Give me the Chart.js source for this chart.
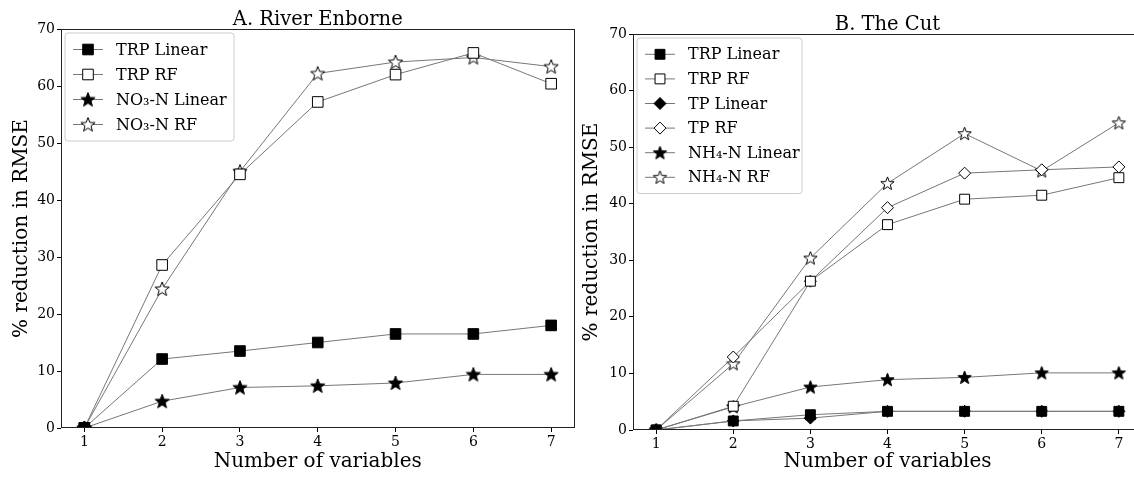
<!DOCTYPE html>
<html>
<head>
<meta charset="utf-8">
<script src="https://cdn.jsdelivr.net/npm/chart.js@4.4.1/dist/chart.umd.min.js"></script>
<style>
  html, body { margin: 0; padding: 0; background: #fff; overflow: hidden; }
  #wrapA { position: absolute; left: 0; top: 0; width: 583px; height: 478px; }
  #wrapB { position: absolute; left: 575px; top: 0; width: 575px; height: 478px; }
</style>
</head>
<body>
<div id="wrapA"><canvas id="chartA"></canvas></div>
<div id="wrapB"><canvas id="chartB"></canvas></div>
<script>
// ---- data ----
var xValues = [1, 2, 3, 4, 5, 6, 7];
var yTicks = [0, 10, 20, 30, 40, 50, 60, 70];

// A. River Enborne
var enbTrpLinear = [0, 12.1, 13.5, 15.0, 16.5, 16.5, 18.0];
var enbTrpRF     = [0, 28.6, 44.5, 57.2, 62.0, 65.8, 60.4];
var enbNo3Linear = [0, 4.7, 7.1, 7.4, 7.9, 9.4, 9.4];
var enbNo3RF     = [0, 24.4, 45.0, 62.2, 64.2, 65.0, 63.4];

// B. The Cut
var cutTrpLinear = [0, 1.6, 2.7, 3.3, 3.3, 3.3, 3.3];
var cutTrpRF     = [0, 4.2, 26.3, 36.3, 40.8, 41.5, 44.6];
var cutTpLinear  = [0, 1.6, 2.1, 3.3, 3.3, 3.3, 3.3];
var cutTpRF      = [0, 12.9, 26.3, 39.3, 45.4, 46.0, 46.5];
var cutNh4Linear = [0, 4.1, 7.6, 8.9, 9.3, 10.1, 10.1];
var cutNh4RF     = [0, 11.7, 30.4, 43.6, 52.4, 45.8, 54.3];

var FONT = "'DejaVu Serif', 'Liberation Serif', serif";
var LINE = '#777777';

// five pointed star marker as a small canvas
function makeStar(outer, fill) {
    var s = Math.ceil(outer * 2 + 3);
    var c = document.createElement('canvas');
    c.width = s; c.height = s;
    var g = c.getContext('2d');
    var cx = s / 2, cy = s / 2 + 0.5, inner = outer * 0.42;
    g.beginPath();
    for (var i = 0; i < 10; i++) {
        var r = i % 2 === 0 ? outer : inner;
        var a = -Math.PI / 2 + i * Math.PI / 5;
        var px = cx + r * Math.cos(a), py = cy + r * Math.sin(a);
        if (i === 0) g.moveTo(px, py); else g.lineTo(px, py);
    }
    g.closePath();
    g.fillStyle = fill;
    g.fill();
    g.lineWidth = 1;
    g.strokeStyle = '#000';
    g.stroke();
    return c;
}

function series(label, data, style, filled, radius) {
    var ps = style === 'star' ? makeStar(radius, filled ? '#000' : '#fff') : style;
    return {
        label: label,
        data: data.map(function (v, i) { return { x: xValues[i], y: v }; }),
        borderColor: LINE,
        borderWidth: 1,
        pointStyle: ps,
        pointRadius: radius,
        pointBackgroundColor: filled ? '#000' : '#fff',
        pointBorderColor: '#000',
        pointBorderWidth: 1,
        tension: 0
    };
}

// legend drawn inside the plot, matplotlib style
var boxLegend = {
    id: 'boxLegend',
    afterDatasetsDraw: function (chart, args, opts) {
        var ctx = chart.ctx, area = chart.chartArea;
        var sets = chart.data.datasets;
        var x0 = area.left + opts.inset, y0 = area.top + opts.inset;
        var h = sets.length * opts.rowH + opts.padY * 2;
        ctx.save();
        ctx.beginPath();
        if (ctx.roundRect) ctx.roundRect(x0, y0, opts.width, h, 3);
        else ctx.rect(x0, y0, opts.width, h);
        ctx.fillStyle = 'rgba(255,255,255,0.8)';
        ctx.fill();
        ctx.strokeStyle = '#cccccc';
        ctx.lineWidth = 1;
        ctx.stroke();
        ctx.font = opts.fontSize + 'px ' + FONT;
        ctx.textBaseline = 'middle';
        sets.forEach(function (ds, i) {
            var yy = y0 + opts.padY + opts.rowH * (i + 0.5);
            var lx = x0 + 8;
            ctx.beginPath();
            ctx.moveTo(lx, yy);
            ctx.lineTo(lx + 30, yy);
            ctx.strokeStyle = LINE;
            ctx.lineWidth = 1;
            ctx.stroke();
            ctx.fillStyle = ds.pointBackgroundColor;
            ctx.strokeStyle = '#000';
            Chart.helpers.drawPoint(ctx, {
                pointStyle: ds.pointStyle,
                radius: ds.pointRadius,
                rotation: 0,
                borderWidth: 1
            }, lx + 15, yy);
            ctx.fillStyle = '#000';
            ctx.fillText(ds.label, lx + 43, yy + 1);
        });
        ctx.restore();
    }
};

// full box frame around the plot plus a title centred over the axes
var frame = {
    id: 'frame',
    afterDraw: function (chart, args, opts) {
        var a = chart.chartArea, ctx = chart.ctx;
        ctx.save();
        ctx.strokeStyle = '#222';
        ctx.lineWidth = 1;
        ctx.strokeRect(Math.round(a.left) + 0.5, Math.round(a.top) + 0.5,
            Math.round(a.right - a.left) - 1, Math.round(a.bottom - a.top) - 1);
        ctx.font = '19.5px ' + FONT;
        ctx.fillStyle = '#000';
        ctx.textAlign = 'center';
        ctx.textBaseline = 'alphabetic';
        ctx.fillText(opts.text, (a.left + a.right) / 2, opts.baseline);
        ctx.restore();
    }
};

function makeChart(id, title, sets, yWidth, xHeight, topPad, titleBase, yTitleTop, legendOpts) {
    return new Chart(document.getElementById(id), {
        type: 'line',
        data: { datasets: sets },
        plugins: [frame, boxLegend],
        options: {
            responsive: true,
            maintainAspectRatio: false,
            animation: false,
            layout: { padding: { top: topPad, left: 0, right: 0, bottom: 0 } },
            plugins: {
                legend: { display: false },
                tooltip: { enabled: false },
                title: { display: false },
                frame: { text: title, baseline: titleBase },
                boxLegend: legendOpts
            },
            scales: {
                x: {
                    type: 'linear',
                    min: 0.7,
                    max: 7.3,
                    afterBuildTicks: function (s) { s.ticks = xValues.map(function (v) { return { value: v }; }); },
                    afterFit: function (s) { s.height = xHeight; },
                    grid: { drawOnChartArea: false, drawTicks: true, tickLength: 4, color: '#000' },
                    border: { display: false },
                    ticks: { color: '#000', font: { family: FONT, size: 14 }, padding: 2, maxRotation: 0 },
                    title: { display: true, text: 'Number of variables', color: '#000', font: { family: FONT, size: 20 }, padding: { top: 2 } }
                },
                y: {
                    min: 0,
                    max: 70,
                    afterBuildTicks: function (s) { s.ticks = yTicks.map(function (v) { return { value: v }; }); },
                    afterFit: function (s) { s.width = yWidth; },
                    grid: { drawOnChartArea: false, drawTicks: true, tickLength: 4, color: '#000' },
                    border: { display: false },
                    ticks: { color: '#000', font: { family: FONT, size: 14 }, padding: 2 },
                    title: { display: true, text: '% reduction in RMSE', color: '#000', font: { family: FONT, size: 20 }, padding: { top: yTitleTop, bottom: 2 } }
                }
            }
        }
    });
}

makeChart('chartA', 'A. River Enborne', [
    series('TRP Linear', enbTrpLinear, 'rect', true, 7.5),
    series('TRP RF', enbTrpRF, 'rect', false, 7.5),
    series('NO\u2083-N Linear', enbNo3Linear, 'star', true, 7.5),
    series('NO\u2083-N RF', enbNo3RF, 'star', false, 7.5)
], 61, 50, 29, 25, 10, { inset: 4, width: 169, rowH: 25, padY: 4, fontSize: 16 });

makeChart('chartB', 'B. The Cut', [
    series('TRP Linear', cutTrpLinear, 'rect', true, 7),
    series('TRP RF', cutTrpRF, 'rect', false, 7),
    series('TP Linear', cutTpLinear, 'rectRot', true, 6),
    series('TP RF', cutTpRF, 'rectRot', false, 6),
    series('NH\u2084-N Linear', cutNh4Linear, 'star', true, 7),
    series('NH\u2084-N RF', cutNh4RF, 'star', false, 7)
], 58, 48, 34, 30, 5, { inset: 4, width: 165, rowH: 24.6, padY: 4, fontSize: 16 });
</script>
</body>
</html>
